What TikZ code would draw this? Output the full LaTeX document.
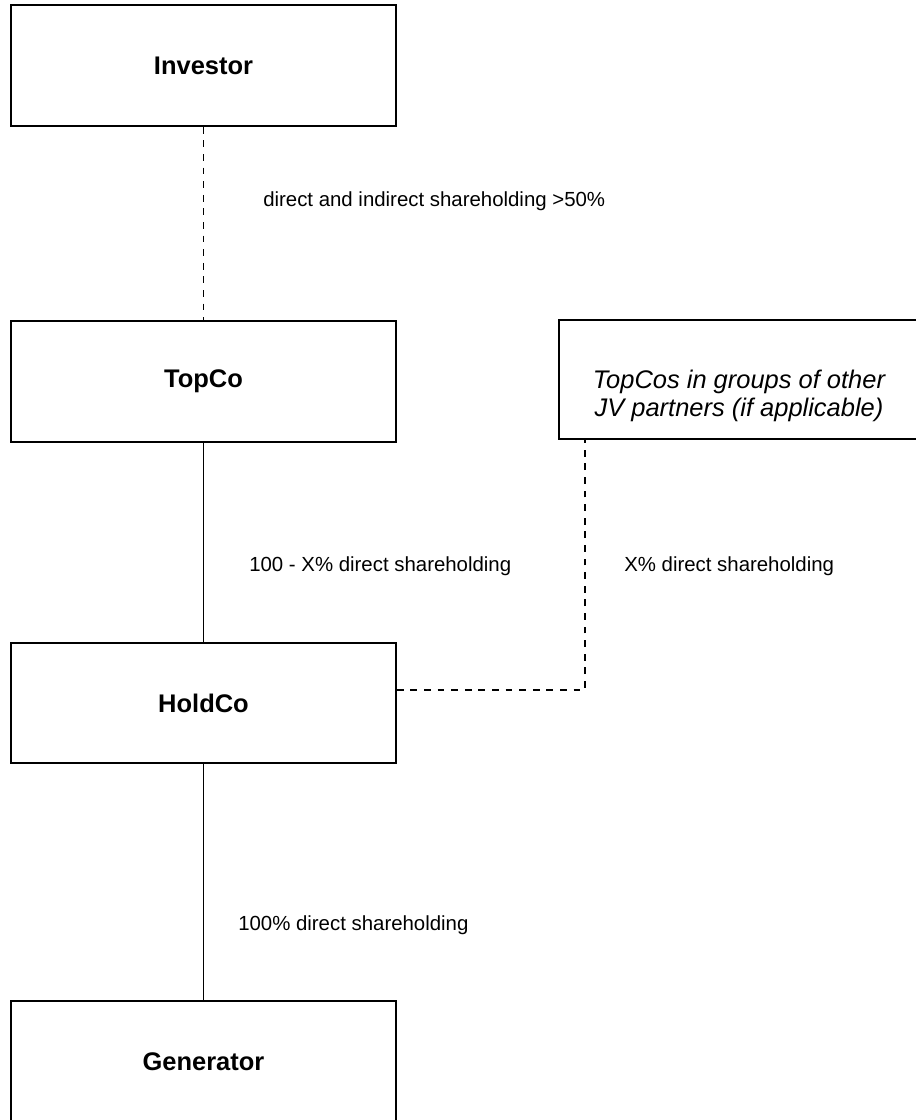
\documentclass[tikz,border=0pt]{standalone}
\usepackage{fontspec}
\setmainfont{Liberation Sans}
\begin{document}
\begin{tikzpicture}[x=0.75pt,y=-0.75pt,
  box/.style={draw=black,line width=1.275pt,fill=white,inner sep=0pt,
    minimum width=288.75pt,minimum height=90.75pt,
    font=\fontsize{19.1pt}{23pt}\selectfont\bfseries},
  notebox/.style={draw=black,line width=1.275pt,fill=white,inner sep=0pt,
    minimum width=270pt,minimum height=89.25pt},
  notetext/.style={inner sep=0pt,align=center,
    font=\fontsize{19.1pt}{20.5pt}\selectfont\itshape},
  lbl/.style={anchor=west,inner sep=0pt,font=\fontsize{15.3pt}{18pt}\selectfont},
  solidedge/.style={draw=black,line width=1.2pt},
  dashedge/.style={draw=black,line width=1.2pt,dash pattern=on 5.1pt off 5.1pt}]
\useasboundingbox (0,0) rectangle (915,1120);
\node[box] (investor) at (203.5,65.5) {Investor};
\node[box] (topco) at (203.5,381.5) {TopCo};
\node[notebox] (topcos) at (739,379.5) {};
\node[notetext] (topcostext) at (739,396) {TopCos in groups of other\\JV partners (if applicable)};
\node[box,minimum height=90pt] (holdco) at (203.5,703) {HoldCo};
\node[box] (generator) at (203.5,1061.5) {Generator};
\coordinate (j1) at (585,690);
\draw[dashedge] (investor.south) -- (topco.north);
\draw[solidedge] (topco.south) -- (holdco.north);
\draw[solidedge] (holdco.south) -- (generator.north);
\draw[dashedge] (holdco.east |- j1) -- (j1) -- (j1 |- topcos.south);
\node[lbl] (l1) at (263,201) {direct and indirect shareholding >50\%};
\node[lbl] (l2) at (249,566) {100 - X\% direct shareholding};
\node[lbl] (l3) at (624,566) {X\% direct shareholding};
\node[lbl] (l4) at (238,925) {100\% direct shareholding};
\end{tikzpicture}
\end{document}
